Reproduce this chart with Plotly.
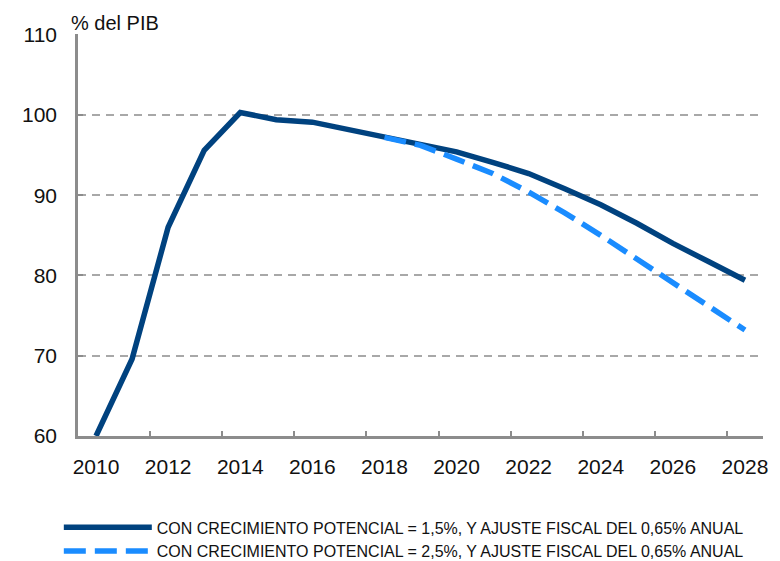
import plotly.graph_objects as go

years = list(range(2010, 2029))
deuda_15 = [60.0, 69.6, 86.0, 95.6, 100.3, 99.4, 99.1, 98.2, 97.2, 96.3, 95.4,
            94.1, 92.7, 90.8, 88.8, 86.5, 84.0, 81.7, 79.4]
years_alt = list(range(2018, 2029))
deuda_25 = [97.2, 96.2, 94.5, 92.7, 90.4, 87.8, 85.0, 82.1, 79.2, 76.2, 73.2]

x_ticks = list(range(2010, 2029, 2))
x_minor = [2011.5 + 2 * i for i in range(9)]
y_ticks = [60, 70, 80, 90, 100, 110]

name_15 = "CON CRECIMIENTO POTENCIAL = 1,5%, Y AJUSTE FISCAL DEL 0,65% ANUAL"
name_25 = "CON CRECIMIENTO POTENCIAL = 2,5%, Y AJUSTE FISCAL DEL 0,65% ANUAL"

fig = go.Figure()
fig.add_trace(go.Scatter(x=years, y=deuda_15, mode="lines", name=name_15,
                         line=dict(color="#00427F", width=5.5)))
fig.add_trace(go.Scatter(x=years_alt, y=deuda_25, mode="lines", name=name_25,
                         line=dict(color="#1A8CFF", width=5.5, dash="22px,9px")))

fig.update_layout(
    width=780, height=561,
    margin=dict(l=70, r=25, t=26, b=133, autoexpand=False),
    paper_bgcolor="white", plot_bgcolor="white",
    font=dict(family="Liberation Sans, Arial, sans-serif", color="#111111"),
    showlegend=True,
    legend=dict(orientation="v", x=-0.028, y=-0.185, xanchor="left", yanchor="top",
                font=dict(family="Liberation Sans Narrow, Liberation Sans, Arial", size=16, color="#111111"),
                itemwidth=88, tracegroupgap=0, bgcolor="rgba(0,0,0,0)"),
    annotations=[dict(text="% del PIB", xref="paper", yref="paper", x=-0.012, y=1.0,
                      xanchor="left", yanchor="bottom", yshift=-1, borderpad=0,
                      showarrow=False,
                      font=dict(size=20, family="Liberation Sans, Arial", color="#111111"))],
)

fig.update_xaxes(range=[2009.5, 2028.5], tickvals=x_ticks, ticks="", automargin=False,
                 showline=True, linecolor="#8c8c8c", linewidth=2.5,
                 showgrid=False, zeroline=False,
                 tickfont=dict(size=21), ticklabelstandoff=10,
                 minor=dict(tickvals=x_minor, ticks="inside", ticklen=5,
                            tickcolor="#8c8c8c", tickwidth=2, showgrid=False))
fig.update_yaxes(range=[60, 110.08], tickvals=y_ticks, ticks="inside", ticklen=5,
                 tickcolor="#8c8c8c", tickwidth=2, automargin=False,
                 showline=True, linecolor="#8c8c8c", linewidth=2.5,
                 showgrid=True, gridcolor="#a8a8a8", gridwidth=2, griddash="8px,6px",
                 zeroline=False, tickfont=dict(size=21), ticklabelstandoff=14)

fig.write_html("out.html")
